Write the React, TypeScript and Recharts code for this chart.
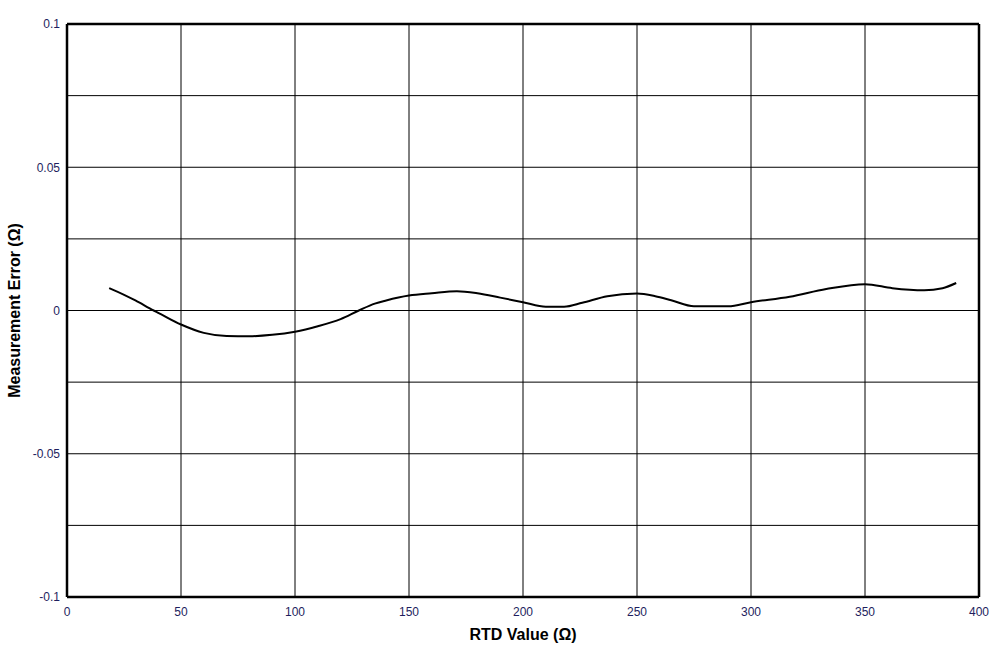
import React from "react";
import {
  CartesianGrid,
  Line,
  LineChart,
  ReferenceLine,
  XAxis,
  YAxis,
} from "recharts";

const rtdValues = [
  18.5, 20, 30, 38, 40, 50, 60, 70, 80, 90, 100, 110, 120, 128, 135, 140, 150,
  160, 171, 180, 190, 200, 210, 218, 226, 237, 250, 258, 265, 275, 290, 300,
  317, 333, 350, 362, 376, 384, 390,
];
const errorValues = [
  0.0078, 0.0073, 0.0035, 0.0, -0.0008, -0.0049, -0.0078, -0.0089, -0.009,
  -0.0085, -0.0074, -0.0055, -0.003, 0.0, 0.0024, 0.0035, 0.0052, 0.006, 0.0067,
  0.006, 0.0045, 0.0029, 0.0013, 0.0013, 0.0027, 0.005, 0.0059, 0.005, 0.0036,
  0.0015, 0.0015, 0.0029, 0.0048, 0.0075, 0.0092, 0.0078, 0.0071, 0.0078,
  0.0096,
];

const xTicks = [0, 50, 100, 150, 200, 250, 300, 350, 400];
const yTicks = [-0.1, -0.075, -0.05, -0.025, 0, 0.025, 0.05, 0.075, 0.1];
const yLabelled = ["-0.1", "-0.05", "0", "0.05", "0.1"];

const data = rtdValues.map((rtd, i) => ({ rtd, err: errorValues[i] }));

const TICK_COLOR = "#1e1e5e";
const FONT = "'Liberation Sans', Arial, sans-serif";

function fmtY(v: number) {
  const s = String(Math.round(v * 1000) / 1000);
  return yLabelled.includes(s) ? s : "";
}

export default function App() {
  return (
    <div
      style={{
        position: "absolute",
        left: 0,
        top: 0,
        width: 1006,
        height: 649,
        background: "#fff",
        fontFamily: FONT,
      }}
    >
      <LineChart
        width={1006}
        height={649}
        data={data}
        margin={{ top: 24, right: 27, bottom: 0, left: 0 }}
      >
        <CartesianGrid stroke="#000" strokeWidth={1} />
        <XAxis
          dataKey="rtd"
          type="number"
          domain={[0, 400]}
          ticks={xTicks}
          tickLine={false}
          axisLine={false}
          tickSize={0}
          tickMargin={10}
          height={52}
          tick={{ fill: TICK_COLOR, fontSize: 12, fontFamily: FONT }}
          label={{
            value: "RTD Value (Ω)",
            position: "insideBottom",
            offset: 9,
            fill: "#000",
            fontSize: 16,
            fontWeight: "bold",
            fontFamily: FONT,
          }}
        />
        <YAxis
          type="number"
          domain={[-0.1, 0.1]}
          ticks={yTicks}
          tickFormatter={fmtY}
          tickLine={false}
          axisLine={false}
          tickSize={0}
          tickMargin={7}
          width={67}
          interval={0}
          tick={{ fill: TICK_COLOR, fontSize: 12, fontFamily: FONT }}
          label={{
            value: "Measurement Error (Ω)",
            angle: -90,
            position: "insideLeft",
            offset: 14,
            style: { textAnchor: "middle" },
            fill: "#000",
            fontSize: 16,
            fontWeight: "bold",
            fontFamily: FONT,
          }}
        />
        <ReferenceLine x={0} stroke="#000" strokeWidth={2.5} />
        <ReferenceLine x={400} stroke="#000" strokeWidth={2.5} />
        <ReferenceLine y={0.1} stroke="#000" strokeWidth={2.5} />
        <ReferenceLine y={-0.1} stroke="#000" strokeWidth={2.5} />
        <Line
          type="monotone"
          dataKey="err"
          stroke="#000"
          strokeWidth={2}
          dot={false}
          isAnimationActive={false}
        />
      </LineChart>
    </div>
  );
}
